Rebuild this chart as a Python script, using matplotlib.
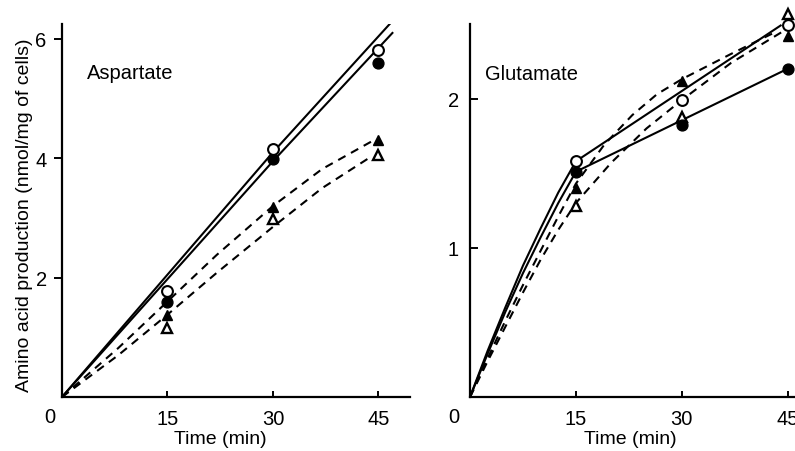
import numpy as np
import matplotlib
matplotlib.use("Agg")
import matplotlib.pyplot as plt

plt.rcParams['font.family'] = ['Liberation Sans', 'DejaVu Sans']

# Sampling times (min)
t_pts = [15, 30, 45]

# Aspartate measurements (nmol/mg of cells)
asp_open_circle = [1.78, 4.15, 5.82]
asp_filled_circle = [1.60, 3.98, 5.60]
asp_filled_tri = [1.37, 3.18, 4.30]
asp_open_tri = [1.15, 2.98, 4.05]

# Aspartate fitted curves
asp_solid_t = [0, 30, 47]
asp_solid_upper = [0, 4.10, 6.30]
asp_solid_lower = [0, 3.95, 6.10]
asp_dash_t = [0, 8, 15, 22, 30, 37, 44]
asp_dash_upper = [0, 0.82, 1.60, 2.38, 3.20, 3.82, 4.28]
asp_dash_lower = [0, 0.70, 1.38, 2.08, 2.85, 3.50, 4.03]

# Glutamate measurements
glu_open_circle = [1.58, 1.99, 2.49]
glu_filled_circle = [1.51, 1.82, 2.20]
glu_filled_tri = [1.40, 2.12, 2.42]
glu_open_tri = [1.28, 1.88, 2.57]

# Glutamate fitted curves
glu_solid_upper_t = [0, 2.5, 5, 7.5, 10, 12.5, 15, 44]
glu_solid_upper = [0, 0.31, 0.60, 0.88, 1.13, 1.37, 1.58, 2.49]
glu_solid_lower_t = [0, 2.5, 5, 7.5, 10, 12.5, 15, 45]
glu_solid_lower = [0, 0.29, 0.57, 0.83, 1.07, 1.30, 1.51, 2.20]
glu_dash_a_t = [0, 2.5, 5, 7.5, 10, 12.5, 15, 19, 23, 26.5, 30, 37, 43]
glu_dash_a = [0, 0.26, 0.51, 0.75, 0.98, 1.21, 1.43, 1.69, 1.89, 2.03, 2.13, 2.30, 2.44]
glu_dash_b_t = [0, 2.5, 5, 7.5, 10, 12.5, 15, 20, 25, 30, 37, 45]
glu_dash_b = [0, 0.24, 0.47, 0.70, 0.92, 1.12, 1.30, 1.57, 1.80, 1.99, 2.24, 2.47]

W, H = 795, 452
fig = plt.figure(figsize=(W / 100, H / 100), dpi=100)

x0_l, x1_l = 62, 410
x0_r, x1_r = 470, 823
y0, y1 = 398, 25
ax1 = fig.add_axes([x0_l / W, 1 - y0 / H, (x1_l - x0_l) / W, (y0 - y1) / H])
ax2 = fig.add_axes([x0_r / W, 1 - y0 / H, (x1_r - x0_r) / W, (y0 - y1) / H])

lw = 1.5
ms_c = 7.8
ms_t = 7.8


def markers(ax, oc, fc, ft, ot):
    ax.plot(t_pts, ot, ls='none', marker='^', ms=ms_t, mfc='white', mec='black', mew=1.7, clip_on=False, zorder=4)
    ax.plot(t_pts, ft, ls='none', marker='^', ms=ms_t, mfc='black', mec='black', clip_on=False, zorder=4)
    ax.plot(t_pts, fc, ls='none', marker='o', ms=ms_c, mfc='black', mec='black', clip_on=False, zorder=5)
    ax.plot(t_pts, oc, ls='none', marker='o', ms=ms_c, mfc='white', mec='black', mew=1.5, clip_on=False, zorder=5)


def style(ax, xmax, ymax, yticks, ydir, ypad, lx):
    ax.set_xlim(0, xmax)
    ax.set_ylim(0, ymax)
    for s in ['top', 'right']:
        ax.spines[s].set_visible(False)
    for s in ['left', 'bottom']:
        ax.spines[s].set_linewidth(1.6)
    ax.set_xticks([15, 30, 45])
    ax.set_yticks(yticks)
    ax.tick_params(axis='x', direction='in', length=4, width=1.4, pad=9, labelsize=14.5)
    ax.tick_params(axis='y', direction=ydir, length=6, width=1.4, pad=ypad, labelsize=14.5)
    ax.set_xlabel('Time (min)', fontsize=14)
    ax.xaxis.set_label_coords(0.454, -0.088)
    ax.xaxis.label.set_va('top')
    ax.annotate('0', xy=(0, 0), xycoords='data', xytext=(-lx, -14), textcoords='offset points',
                ha='center', va='center', fontsize=14.5)


# Aspartate panel
ax1.plot(asp_solid_t, asp_solid_upper, color='black', lw=lw)
ax1.plot(asp_solid_t, asp_solid_lower, color='black', lw=lw)
ax1.plot(asp_dash_t, asp_dash_upper, color='black', lw=lw, dashes=(4, 3))
ax1.plot(asp_dash_t, asp_dash_lower, color='black', lw=lw, dashes=(4, 3))
markers(ax1, asp_open_circle, asp_filled_circle, asp_filled_tri, asp_open_tri)
style(ax1, 49.5, 6.25, [2, 4, 6], 'out', 5, 8.6)
ax1.set_ylabel('Amino acid production (nmol/mg of cells)', fontsize=14)
ax1.yaxis.set_label_coords((25 - x0_l) / (x1_l - x0_l), (y0 - 215) / (y0 - y1))
ax1.yaxis.label.set_va('center')
ax1.text(0.072, 0.869, 'Aspartate', transform=ax1.transAxes, fontsize=14.5, va='center', ha='left')

# Glutamate panel
ax2.plot(glu_solid_upper_t, glu_solid_upper, color='black', lw=lw)
ax2.plot(glu_solid_lower_t, glu_solid_lower, color='black', lw=lw)
ax2.plot(glu_dash_a_t, glu_dash_a, color='black', lw=lw, dashes=(4, 3))
ax2.plot(glu_dash_b_t, glu_dash_b, color='black', lw=lw, dashes=(4, 3))
markers(ax2, glu_open_circle, glu_filled_circle, glu_filled_tri, glu_open_tri)
style(ax2, 50, 2.5, [1, 2], 'in', 8, 12)
ax2.text(0.042, 0.867, 'Glutamate', transform=ax2.transAxes, fontsize=14.5, va='center', ha='left')

fig.savefig('out.png', dpi=100)
